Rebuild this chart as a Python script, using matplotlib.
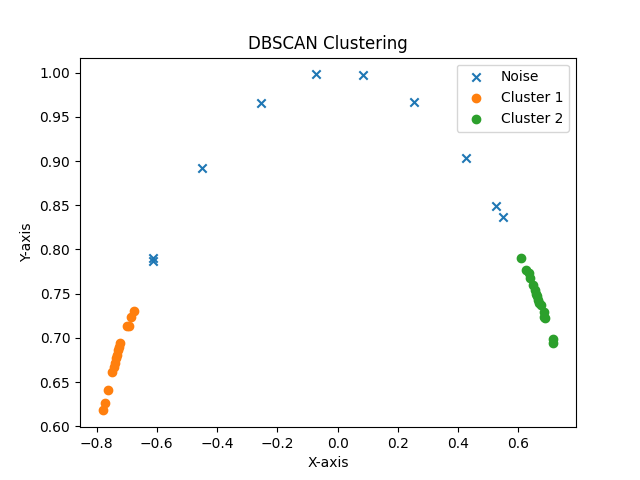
import numpy as np
import matplotlib
matplotlib.use("Agg")
import matplotlib.pyplot as plt

# noise points
noise_x = [-0.611, -0.614, -0.451, -0.255, -0.072, 0.084, 0.254, 0.427, 0.527, 0.547]
noise_y = [0.790, 0.787, 0.892, 0.966, 0.998, 0.997, 0.967, 0.903, 0.849, 0.837]

# cluster 1
c1_x = [-0.780, -0.773, -0.763, -0.747, -0.743, -0.740, -0.737, -0.733, -0.730,
        -0.727, -0.723, -0.700, -0.693, -0.687, -0.677]
c1_y = [0.618, 0.626, 0.641, 0.661, 0.667, 0.672, 0.677, 0.681, 0.686,
        0.690, 0.694, 0.713, 0.714, 0.724, 0.730]

# cluster 2
c2_x = [0.609, 0.626, 0.636, 0.639, 0.649, 0.656, 0.659, 0.663, 0.666,
        0.669, 0.676, 0.683, 0.686, 0.689, 0.713, 0.716]
c2_y = [0.790, 0.777, 0.773, 0.768, 0.760, 0.754, 0.750, 0.747, 0.743,
        0.740, 0.737, 0.729, 0.724, 0.722, 0.699, 0.694]

fig, ax = plt.subplots(figsize=(6.4, 4.8), dpi=100)
ax.scatter(noise_x, noise_y, marker='x', label='Noise')
ax.scatter(c1_x, c1_y, label='Cluster 1')
ax.scatter(c2_x, c2_y, label='Cluster 2')

ax.set_title('DBSCAN Clustering')
ax.set_xlabel('X-axis')
ax.set_ylabel('Y-axis')
ax.legend()

fig.savefig('out.png')
